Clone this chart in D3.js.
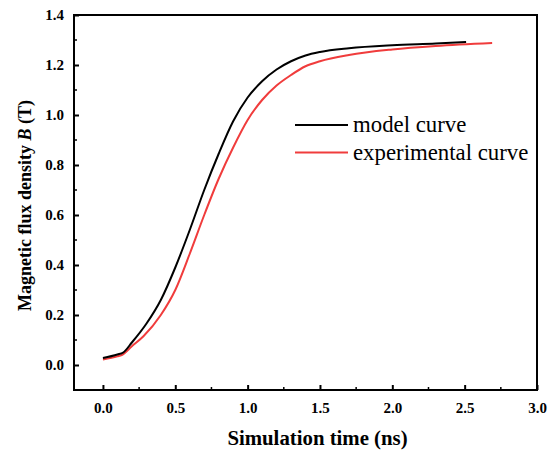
<!DOCTYPE html>
<html><head><meta charset="utf-8">
<script src="https://cdn.jsdelivr.net/npm/d3@7"></script>
<style>body{margin:0;background:#fff}</style>
</head><body>
<script>
const modelTime = [0, 0.1, 0.14, 0.2, 0.3, 0.4, 0.5, 0.6, 0.7, 0.8, 0.9, 1.0, 1.1, 1.2, 1.3, 1.4, 1.5, 1.7, 2.0, 2.3, 2.51];
const modelB    = [0.028, 0.042, 0.05, 0.09, 0.165, 0.26, 0.39, 0.54, 0.70, 0.845, 0.975, 1.07, 1.135, 1.182, 1.215, 1.238, 1.252, 1.267, 1.279, 1.286, 1.292];
const expTime   = [0, 0.1, 0.13, 0.2, 0.28, 0.4, 0.5, 0.6, 0.7, 0.8, 0.9, 1.0, 1.1, 1.2, 1.3, 1.4, 1.5, 1.7, 2.0, 2.3, 2.69];
const expB      = [0.022, 0.035, 0.04, 0.075, 0.115, 0.20, 0.30, 0.445, 0.60, 0.745, 0.87, 0.98, 1.06, 1.118, 1.16, 1.195, 1.215, 1.24, 1.262, 1.276, 1.288];
const xTicks = [0, 0.5, 1.0, 1.5, 2.0, 2.5, 3.0];
const yTicks = [0, 0.2, 0.4, 0.6, 0.8, 1.0, 1.2, 1.4];
const seriesNames = ["model curve", "experimental curve"];
const seriesColors = ["#000000", "#f03c3c"];

const W = 554, H = 451;
const L = 74, R = 537, T = 15, B = 390;
const svg = d3.select("body").append("svg").attr("width", W).attr("height", H);
const x = d3.scaleLinear().domain([-0.2, 3.0]).range([L, R]);
const y = d3.scaleLinear().domain([-0.1, 1.4]).range([B, T]);
const font = "'Liberation Serif', 'Times New Roman', serif";

// Minor ticks
const xMinor = d3.range(0.25, 3.0, 0.5);
const yMinor = d3.range(-0.1, 1.4, 0.2).map(v => +v.toFixed(2));
svg.append("g").selectAll("line").data(xMinor).join("line")
  .attr("x1", d => x(d)).attr("x2", d => x(d)).attr("y1", B).attr("y2", B - 3)
  .attr("stroke", "#000").attr("stroke-width", 1.5);
svg.append("g").selectAll("line").data(yMinor).join("line")
  .attr("y1", d => y(d)).attr("y2", d => y(d)).attr("x1", L).attr("x2", L + 3)
  .attr("stroke", "#000").attr("stroke-width", 1.5);

// Axes
const xAxis = d3.axisBottom(x).tickValues(xTicks).tickFormat(d3.format(".1f")).tickSizeInner(-5).tickSizeOuter(0).tickPadding(12);
const gx = svg.append("g").attr("transform", `translate(0,${B})`).call(xAxis);
const yAxis = d3.axisLeft(y).tickValues(yTicks).tickFormat(d3.format(".1f")).tickSizeInner(-5).tickSizeOuter(0).tickPadding(10);
const gy = svg.append("g").attr("transform", `translate(${L},0)`).call(yAxis);
[gx, gy].forEach(g => {
  g.select(".domain").remove();
  g.selectAll(".tick line").attr("stroke", "#000").attr("stroke-width", 2);
  g.selectAll(".tick text").attr("font-family", font).attr("font-weight", "bold").attr("font-size", 15).attr("fill", "#000");
});

// Frame
svg.append("rect").attr("x", L).attr("y", T).attr("width", R - L).attr("height", B - T)
  .attr("fill", "none").attr("stroke", "#000").attr("stroke-width", 2);

// Lines
const line = d3.line().x(d => x(d[0])).y(d => y(d[1])).curve(d3.curveMonotoneX);
const series = [
  modelTime.map((t, i) => [t, modelB[i]]),
  expTime.map((t, i) => [t, expB[i]])
];
[1, 0].forEach(i => {
  svg.append("path").datum(series[i]).attr("d", line)
    .attr("fill", "none").attr("stroke", seriesColors[i]).attr("stroke-width", 2);
});

// Legend
const leg = svg.append("g");
seriesNames.forEach((n, i) => {
  const yy = 125 + i * 27.5;
  leg.append("line").attr("x1", 295).attr("x2", 348).attr("y1", yy).attr("y2", yy)
    .attr("stroke", seriesColors[i]).attr("stroke-width", 2);
  leg.append("text").attr("x", 353).attr("y", yy + 7).text(n)
    .attr("font-family", font).attr("font-size", 22.8).attr("fill", "#000");
});

// Axis titles
svg.append("text").attr("x", (L + R) / 2 + 12).attr("y", 445).attr("text-anchor", "middle")
  .attr("font-family", font).attr("font-weight", "bold").attr("font-size", 20.8).text("Simulation time (ns)");
const yt = svg.append("text").attr("transform", `translate(31,${(T + B) / 2 + 3}) rotate(-90)`)
  .attr("text-anchor", "middle").attr("font-family", font).attr("font-weight", "bold").attr("font-size", 18);
yt.append("tspan").text("Magnetic flux density ");
yt.append("tspan").attr("font-style", "italic").text("B");
yt.append("tspan").text(" (T)");
</script>
</body></html>
